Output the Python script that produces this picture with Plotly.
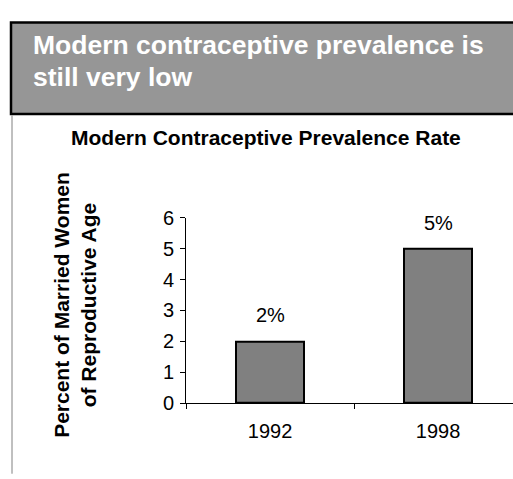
import plotly.graph_objects as go

# Data
years = ["1992", "1998"]
rates = [2, 5]
y_ticks = [0, 1, 2, 3, 4, 5, 6]

header_lines = ["Modern contraceptive prevalence is", "still very low"]
chart_title = "Modern Contraceptive Prevalence Rate"
y_title = "Percent of Married Women<br>of Reproductive Age"

W, H = 513, 479
def px(x):
    return x / W
def py(y):
    return 1 - y / H

FONT = "Liberation Sans, Arial, sans-serif"

fig = go.Figure()
fig.add_trace(go.Bar(
    x=years, y=rates, width=0.405,
    marker=dict(color="#808080", line=dict(color="#000000", width=2)),
    hoverinfo="skip", showlegend=False,
))

# data labels (category index used for x position)
for i, v in enumerate(rates):
    fig.add_annotation(x=i, y=v, xref="x", yref="y", text=f"{v}%",
                       showarrow=False, yshift=26, yanchor="middle",
                       font=dict(family=FONT, size=20, color="#000000"))

shapes = [
    dict(type="rect", xref="paper", yref="paper", x0=px(11), x1=px(540),
         y0=py(108), y1=py(12), fillcolor="#969696",
         line=dict(color="#000000", width=2.5), layer="below"),
    dict(type="line", xref="paper", yref="paper", x0=px(12), x1=px(12),
         y0=py(109.5), y1=py(485), line=dict(color="#808080", width=1)),
]

annotations = [
    dict(text=header_lines[0], x=px(31), y=py(36), xref="paper", yref="paper",
         xanchor="left", yanchor="middle", showarrow=False,
         font=dict(family=FONT, size=26.5, color="#ffffff", weight="bold")),
    dict(text=header_lines[1], x=px(31), y=py(69), xref="paper", yref="paper",
         xanchor="left", yanchor="middle", showarrow=False,
         font=dict(family=FONT, size=26.5, color="#ffffff", weight="bold")),
    dict(text=chart_title, x=px(266), y=py(133), xref="paper", yref="paper",
         xanchor="center", yanchor="middle", showarrow=False,
         font=dict(family=FONT, size=21, color="#000000", weight="bold")),
    dict(text=y_title, x=px(75), y=py(308), xref="paper", yref="paper",
         xanchor="center", yanchor="middle", showarrow=False, textangle=-90,
         font=dict(family=FONT, size=21, color="#000000", weight="bold")),
]
for a in annotations:
    fig.add_annotation(**a)

fig.update_layout(
    width=W, height=H, margin=dict(l=0, r=0, t=0, b=0),
    paper_bgcolor="#ffffff", plot_bgcolor="#ffffff",
    shapes=shapes, bargap=0,
    font=dict(family=FONT, color="#000000"),
    xaxis=dict(domain=[px(186), 1], range=[-0.5, 1.446], type="category",
               tickson="boundaries", ticks="outside", ticklen=5, tickcolor="#000000",
               showline=True, linecolor="#000000", linewidth=1, showgrid=False,
               tickfont=dict(family=FONT, size=20, color="#000000"),
               ticklabelstandoff=10, fixedrange=True),
    yaxis=dict(domain=[py(411), py(216.7)], range=[0, 6], tickvals=y_ticks,
               ticks="outside", ticklen=5, tickcolor="#000000",
               showline=True, linecolor="#000000", linewidth=1, showgrid=False,
               zeroline=False,
               tickfont=dict(family=FONT, size=20, color="#000000"),
               ticklabelstandoff=2, fixedrange=True),
)

fig.write_html("out.html")
